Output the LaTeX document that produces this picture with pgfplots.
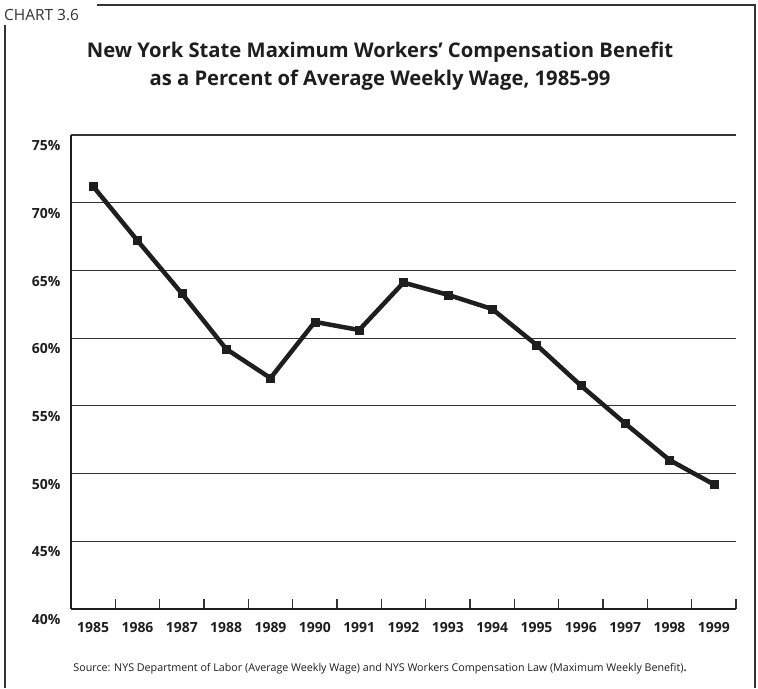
\documentclass[border=0pt]{standalone}
\usepackage{fontspec}
\setmainfont{Open Sans}
\usepackage{pgfplots}
\pgfplotsset{compat=1.18}
\definecolor{ink}{HTML}{1E1E1E}
\definecolor{gridc}{HTML}{333333}
\begin{document}
\begin{tikzpicture}[x=1bp,y=1bp]
\fill[white] (0,0) rectangle (758,688);
% frame
\draw[gridc, line width=1.2bp] (5,0) -- (5,663);
\draw[gridc, line width=1.2bp] (97,683) -- (755,683) -- (755,0);
\node[anchor=west, text=gridc, font=\fontsize{15.5}{17}\selectfont, inner sep=0] at (4,673) {CHART 3.6};
% title
\node[align=center, text=ink, font=\fontsize{20.3}{28}\selectfont\bfseries, inner sep=0] at (380,622)
  {New York State Maximum Workers' Compensation Benefit\\as a Percent of Average Weekly Wage, 1985-99};
\node[text=ink, font=\fontsize{10.75}{12}\selectfont, inner sep=0] at (380,19)
  {Source: NYS Department of Labor (Average Weekly Wage) and NYS Workers Compensation Law (Maximum Weekly Benefit)\textbf{.}};
\begin{axis}[
  at={(71bp,79bp)}, anchor=south west,
  scale only axis, width=665bp, height=474bp,
  xmin=-0.5, xmax=14.5, ymin=40, ymax=75,
  axis x line*=bottom, axis y line*=left,
  axis line style={ink, line width=2.5bp},
  xtick={0,...,14},
  xticklabels={1985,1986,1987,1988,1989,1990,1991,1992,1993,1994,1995,1996,1997,1998,1999},
  major x tick style={draw=none},
  minor xtick={0.5,1.5,...,14.5},
  minor x tick style={gridc, line width=1.2bp},
  minor tick length=10bp,
  tick align=inside,
  ytick={40,45,...,75},
  yticklabel={\pgfmathprintnumber{\tick}\%},
  ymajorgrids,
  major grid style={gridc, line width=1.2bp},
  major y tick style={draw=none},
  /pgf/number format/assume math mode=true,
  tick label style={font=\fontsize{14}{16}\selectfont\bfseries, text=ink},
  yticklabel style={anchor=north east, xshift=-7bp, yshift=-2bp},
  xticklabel style={anchor=north, yshift=-10bp},
  clip=false,
]
\addplot[ink, line width=4.5bp, mark=square*, mark size=4bp, mark options={line width=0.5bp}] coordinates {
(0,71.2) (1,67.2) (2,63.3) (3,59.2) (4,57.05) (5,61.2) (6,60.6) (7,64.1) (8,63.2) (9,62.15) (10,59.5) (11,56.5) (12,53.7) (13,51.0) (14,49.2)
};
\end{axis}
\end{tikzpicture}
\end{document}
